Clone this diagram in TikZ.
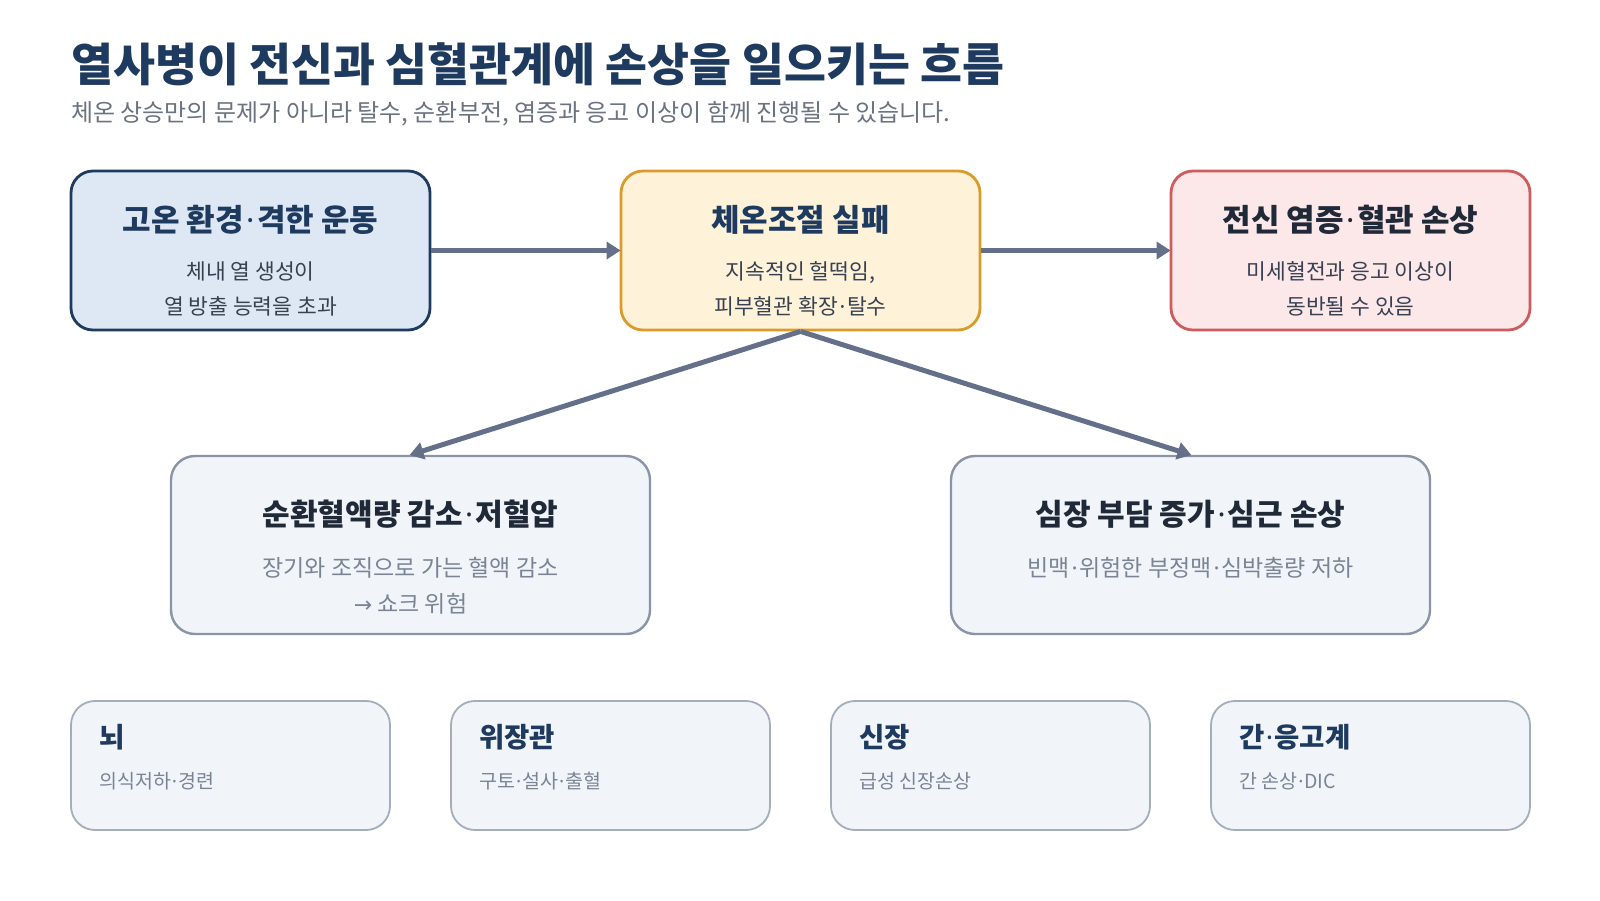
\documentclass[tikz,border=0pt]{standalone}
\usepackage{fontspec}
\setmainfont{Noto Sans CJK KR}
\newfontfamily\latinf{Noto Sans}
\newfontfamily\symf{DejaVu Sans}
\newcommand\md{\kern0.08em{\latinf ·}\kern0.08em}
\newcommand\mdn{\kern0.05em{\latinf ·}\kern0.05em}
\usetikzlibrary{arrows.meta}
\definecolor{navy}{HTML}{1E3A5F}
\definecolor{ink}{HTML}{1F2937}
\definecolor{bodyc}{HTML}{374151}
\definecolor{grayc}{HTML}{6B7280}
\definecolor{subgray}{HTML}{7A8494}
\definecolor{bluefill}{HTML}{DDE8F4}
\definecolor{goldfill}{HTML}{FEF3D9}
\definecolor{golddraw}{HTML}{DB9A2C}
\definecolor{redfill}{HTML}{FCE7E9}
\definecolor{reddraw}{HTML}{CD5C5E}
\definecolor{panefill}{HTML}{F1F5FA}
\definecolor{panedraw}{HTML}{8A94A6}
\definecolor{lightdraw}{HTML}{A3ADBC}
\definecolor{arrowc}{HTML}{64708A}
\tikzset{
  topbox/.style={draw, rounded corners=22pt, minimum width=359pt, minimum height=159pt, inner sep=0pt, line width=2.8pt},
  midbox/.style={draw=panedraw, fill=panefill, rounded corners=24pt, minimum width=479pt, minimum height=178pt, inner sep=0pt, line width=2.4pt},
  lowbox/.style={draw=lightdraw, fill=panefill, rounded corners=24pt, minimum width=319pt, minimum height=129pt, inner sep=0pt, line width=1.8pt},
  flow/.style={draw=arrowc, line width=5pt, -{Triangle[length=14pt,width=17pt]}, shorten >=-1pt},
  headtxt/.style={anchor=base, inner sep=0pt, font=\fontsize{31pt}{36pt}\selectfont\bfseries},
  bodytxt/.style={anchor=base, inner sep=0pt, text=bodyc, font=\fontsize{21.5pt}{26pt}\selectfont},
  midhead/.style={anchor=base, inner sep=0pt, text=ink, font=\fontsize{30pt}{36pt}\selectfont\bfseries},
  midsub/.style={anchor=base, inner sep=0pt, text=subgray, font=\fontsize{23pt}{27pt}\selectfont},
  lowhead/.style={anchor=base west, inner sep=0pt, text=navy, font=\fontsize{27.5pt}{32pt}\selectfont\bfseries},
  lowsub/.style={anchor=base west, inner sep=0pt, text=subgray, font=\fontsize{19.5pt}{23pt}\selectfont},
}
\begin{document}
\begin{tikzpicture}[x=1pt,y=-1pt]
\useasboundingbox[fill=white] (0,0) rectangle (1600,900);

% title
\node[anchor=base west, inner sep=0pt, text=navy, font=\fontsize{45.6pt}{52pt}\selectfont\bfseries] (title) at (71,81.5) {열사병이 전신과 심혈관계에 손상을 일으키는 흐름};
\node[anchor=base west, inner sep=0pt, text=grayc, font=\fontsize{24pt}{28pt}\selectfont] (subtitle) at (71,121) {체온 상승만의 문제가 아니라 탈수, 순환부전, 염증과 응고 이상이 함께 진행될 수 있습니다.};

% top row
\node[topbox, fill=bluefill, draw=navy] (b1) at (250.5,250.5) {};
\node[topbox, fill=goldfill, draw=golddraw] (b2) at (800.5,250.5) {};
\node[topbox, fill=redfill, draw=reddraw] (b3) at (1350.5,250.5) {};

\node[headtxt, text=navy] (b1h) at (250.5,231) {고온 환경\md 격한 운동};
\node[bodytxt] (b1a) at (250.5,279) {체내 열 생성이};
\node[bodytxt] (b1b) at (250.5,314) {열 방출 능력을 초과};

\node[headtxt, text=navy] (b2h) at (800.5,231) {체온조절 실패};
\node[bodytxt] (b2a) at (800.5,279) {지속적인 헐떡임,};
\node[bodytxt] (b2b) at (800.5,314) {피부혈관 확장\md 탈수};

\node[headtxt, text=ink] (b3h) at (1350.5,231) {전신 염증\md 혈관 손상};
\node[bodytxt] (b3a) at (1350.5,279) {미세혈전과 응고 이상이};
\node[bodytxt] (b3b) at (1350.5,314) {동반될 수 있음};

% middle row
\node[midbox] (m1) at (410.5,545) {};
\node[midbox] (m2) at (1190.5,545) {};
\node[midhead] (m1h) at (410.5,525) {순환혈액량 감소\md 저혈압};
\node[midsub] (m1a) at (410.5,576) {장기와 조직으로 가는 혈액 감소};
\node[midsub] (m1b) at (410.5,612) {{\symf\fontsize{22pt}{26pt}\selectfont →} 쇼크 위험};
\node[midhead] (m2h) at (1190.5,525) {심장 부담 증가\md 심근 손상};
\node[midsub] (m2a) at (1190.5,576) {빈맥\md 위험한 부정맥\md 심박출량 저하};

% arrows
\draw[flow] (b1.east) -- (b2.west);
\draw[flow] (b2.east) -- (b3.west);
\draw[flow] (b2.south) -- (m1.north);
\draw[flow] (b2.south) -- (m2.north);

% bottom row
\node[lowbox] (o1) at (230.5,765.5) {};
\node[lowbox] (o2) at (610.5,765.5) {};
\node[lowbox] (o3) at (990.5,765.5) {};
\node[lowbox] (o4) at (1370.5,765.5) {};
\node[lowhead] (o1h) at (99,747) {뇌};
\node[lowsub] (o1s) at (99,788) {의식저하\mdn 경련};
\node[lowhead] (o2h) at (479,747) {위장관};
\node[lowsub] (o2s) at (479,788) {구토\mdn 설사\mdn 출혈};
\node[lowhead] (o3h) at (859,747) {신장};
\node[lowsub] (o3s) at (859,788) {급성 신장손상};
\node[lowhead] (o4h) at (1239,747) {간\mdn 응고계};
\node[lowsub] (o4s) at (1239,788) {간 손상\mdn DIC};
\end{tikzpicture}
\end{document}
